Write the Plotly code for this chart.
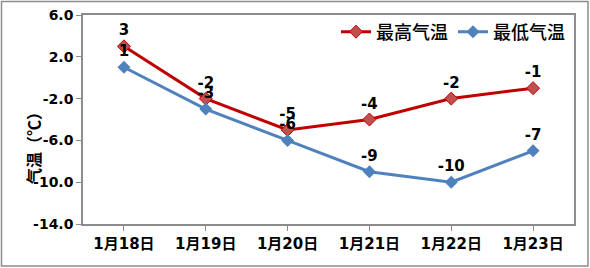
import plotly.graph_objects as go

dates = ["1月18日", "1月19日", "1月20日", "1月21日", "1月22日", "1月23日"]
high = [3, -2, -5, -4, -2, -1]
low = [1, -3, -6, -9, -10, -7]
y_ticks = [6, 2, -2, -6, -10, -14]
y_tick_text = ["6.0", "2.0", "-2.0", "-6.0", "-10.0", "-14.0"]

FONT = "DejaVu Sans, Noto Sans CJK SC, sans-serif"
CJK = "Noto Sans CJK SC, sans-serif"
W, H = 590, 268
L, R, T, B = 83, 16, 15, 44
pw, ph = W - L - R, H - T - B

fig = go.Figure()
fig.add_trace(go.Scatter(
    x=dates, y=high, name="最高气温", mode="lines+markers+text",
    line=dict(color="#C00000", width=3),
    marker=dict(symbol="diamond", size=10, color="#C0504D", line=dict(color="#C00000", width=1)),
    text=[str(v) for v in high], textposition="top center",
    textfont=dict(family=FONT, size=15, color="black", weight="bold"),
))
fig.add_trace(go.Scatter(
    x=dates, y=low, name="最低气温", mode="lines+markers+text",
    line=dict(color="#4F81BD", width=3),
    marker=dict(symbol="diamond", size=10, color="#4F81BD"),
    text=[str(v) for v in low], textposition="top center",
    textfont=dict(family=FONT, size=15, color="black", weight="bold"),
))

def px_x(p):
    return (p - L) / pw

def px_y(p):
    return (H - B - p) / ph

fig.add_shape(type="rect", xref="paper", yref="paper",
              x0=px_x(1.5), x1=px_x(588), y0=px_y(266), y1=px_y(1.5),
              line=dict(color="#8c8c8c", width=1.5), layer="below")

fig.add_annotation(text="气温（℃）", xref="paper", yref="paper",
                   x=px_x(19), y=px_y(144), showarrow=False, textangle=-90,
                   font=dict(family=CJK, size=16, color="black", weight="bold"))

fig.update_layout(
    width=W, height=H, margin=dict(l=L, r=R, t=T, b=B, autoexpand=False),
    paper_bgcolor="white", plot_bgcolor="white",
    font=dict(family=FONT, color="black"),
    showlegend=True,
    legend=dict(orientation="h", x=px_x(570), xanchor="right", y=px_y(32), yanchor="middle",
                font=dict(family=CJK, size=18, color="black", weight=500),
                bgcolor="rgba(0,0,0,0)", itemwidth=30, tracegroupgap=0),
    xaxis=dict(range=[-0.5, 5.5], showline=True, linecolor="#8c8c8c", linewidth=1.5, mirror=True,
               ticks="outside", ticklen=5, tickcolor="#8c8c8c", showgrid=False, automargin=False,
               tickfont=dict(family=FONT, size=15, color="black", weight="bold")),
    yaxis=dict(range=[-14, 6], tickvals=y_ticks, ticktext=y_tick_text,
               showline=True, linecolor="#8c8c8c", linewidth=1.5, mirror=True, automargin=False,
               ticks="outside", ticklen=5, tickcolor="#8c8c8c", showgrid=False, zeroline=False,
               tickfont=dict(family=FONT, size=14, color="black", weight="bold")),
)

fig.write_html("out.html")
